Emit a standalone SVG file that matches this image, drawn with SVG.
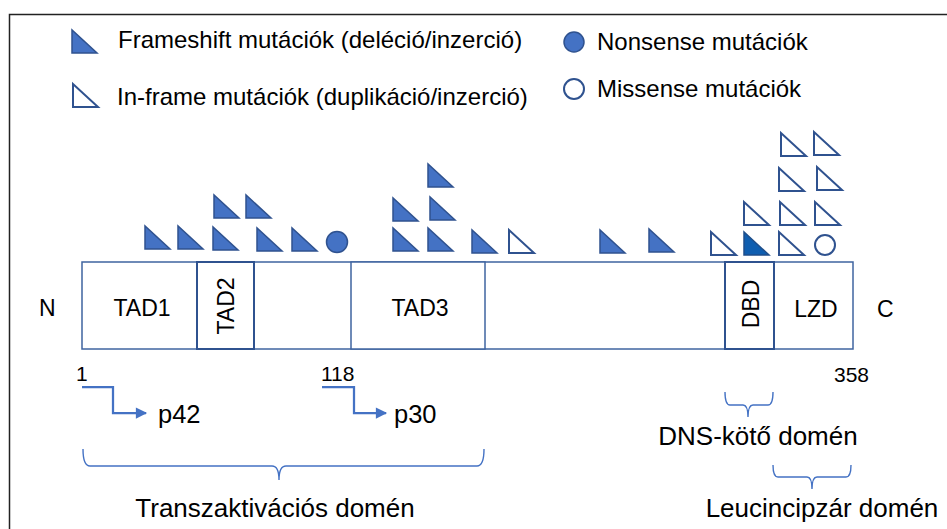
<svg xmlns="http://www.w3.org/2000/svg" xmlns:xlink="http://www.w3.org/1999/xlink" width="947" height="529" viewBox="0 0 947 529">
  <defs>
    <style>
      text { font-family: "Liberation Sans", Arial, sans-serif; fill: #000; }
      .leg { font-size: 24px; }
      .dom { font-size: 23px; }
      .num { font-size: 21px; }
      .iso { font-size: 25.5px; }
      .lab { font-size: 26px; }
      .fs { fill: #4472C4; stroke: #2F528F; stroke-width: 1.5; stroke-linejoin: miter; }
      .inf { fill: #FFFFFF; stroke: #2F528F; stroke-width: 2; stroke-linejoin: miter; }
      .dbdfs { fill: #0F5EB0; stroke: #1F4E8A; stroke-width: 1.5; }
      .bar { fill: #FFFFFF; stroke: #3F64A0; stroke-width: 1.5; }
      .box { fill: #FFFFFF; stroke: #2F528F; stroke-width: 2; }
      .arrow { fill: none; stroke: #4472C4; stroke-width: 2.25; }
      .brace { fill: none; stroke: #4472C4; stroke-width: 1.4; }
    </style>
    <!-- right-angled mutation marker: right angle at bottom-left -->
    <path id="tri" d="M0,0 V23 H25 Z"/>
    <marker id="head" viewBox="0 0 10 10" refX="9" refY="5" markerWidth="5.5" markerHeight="5" orient="auto" markerUnits="strokeWidth">
      <path d="M0,0 L10,5 L0,10 Z" fill="#4472C4"/>
    </marker>
  </defs>

  <!-- frame -->
  <rect x="9.5" y="14.5" width="960" height="540" fill="#FFFFFF" stroke="#222222" stroke-width="1.5"/>

  <!-- legend -->
  <g id="legend-frameshift">
    <use xlink:href="#tri" x="72" y="30" class="fs"/>
    <text class="leg" x="118" y="48">Frameshift mutációk (deléció/inzerció)</text>
  </g>
  <g id="legend-inframe">
    <use xlink:href="#tri" x="73" y="84" class="inf"/>
    <text class="leg" x="117" y="105">In-frame mutációk (duplikáció/inzerció)</text>
  </g>
  <g id="legend-nonsense">
    <circle cx="574" cy="42" r="10" class="fs"/>
    <text class="leg" x="597" y="50">Nonsense mutációk</text>
  </g>
  <g id="legend-missense">
    <circle cx="574" cy="89" r="10" class="inf"/>
    <text class="leg" x="597" y="97">Missense mutációk</text>
  </g>

  <!-- protein bar -->
  <g id="protein">
    <rect x="82" y="262" width="771" height="87" class="bar"/>
  </g>
  <g id="tad2">
    <rect x="197" y="262" width="57" height="87" class="box"/>
    <text class="dom" transform="translate(234,306) rotate(-90)" text-anchor="middle">TAD2</text>
  </g>
  <g id="tad3">
    <rect x="351" y="262" width="134" height="87" class="bar"/>
    <text class="dom" x="420" y="316" text-anchor="middle">TAD3</text>
  </g>
  <g id="dbd">
    <rect x="725" y="262" width="49" height="87" class="box"/>
    <text class="dom" transform="translate(759,304) rotate(-90)" text-anchor="middle">DBD</text>
  </g>
  <g id="tad1">
    <text class="dom" x="142" y="316" text-anchor="middle">TAD1</text>
  </g>
  <g id="lzd">
    <text class="dom" x="816" y="317" text-anchor="middle">LZD</text>
  </g>
  <g id="n-term"><text class="dom" x="39" y="316">N</text></g>
  <g id="c-term"><text class="dom" x="877" y="317">C</text></g>

  <!-- mutations -->
  <g id="frameshift-mutations" class="fs">
    <use xlink:href="#tri" x="145" y="226"/>
    <use xlink:href="#tri" x="178" y="226"/>
    <use xlink:href="#tri" x="213" y="227"/>
    <use xlink:href="#tri" x="257" y="228"/>
    <use xlink:href="#tri" x="292" y="228"/>
    <use xlink:href="#tri" x="214" y="195"/>
    <use xlink:href="#tri" x="246" y="195"/>
    <use xlink:href="#tri" x="393" y="228"/>
    <use xlink:href="#tri" x="428" y="228"/>
    <use xlink:href="#tri" x="472" y="230"/>
    <use xlink:href="#tri" x="393" y="198"/>
    <use xlink:href="#tri" x="430" y="197"/>
    <use xlink:href="#tri" x="428" y="164"/>
    <use xlink:href="#tri" x="600" y="230"/>
    <use xlink:href="#tri" x="649" y="229"/>
  </g>
  <g id="dbd-frameshift">
    <use xlink:href="#tri" x="744" y="232" class="dbdfs"/>
  </g>
  <g id="inframe-mutations" class="inf">
    <use xlink:href="#tri" x="509" y="230"/>
    <use xlink:href="#tri" x="711" y="232"/>
    <use xlink:href="#tri" x="779" y="232"/>
    <use xlink:href="#tri" x="744" y="202"/>
    <use xlink:href="#tri" x="780" y="202"/>
    <use xlink:href="#tri" x="815" y="202"/>
    <use xlink:href="#tri" x="779" y="168"/>
    <use xlink:href="#tri" x="817" y="167"/>
    <use xlink:href="#tri" x="781" y="133"/>
    <use xlink:href="#tri" x="814" y="132"/>
  </g>
  <g id="nonsense-mutation">
    <circle cx="337" cy="242" r="10.5" class="fs"/>
  </g>
  <g id="missense-mutation">
    <circle cx="825" cy="245" r="10" class="inf"/>
  </g>

  <!-- positions and isoforms -->
  <g id="pos-1"><text class="num" x="76" y="381">1</text></g>
  <g id="pos-118"><text class="num" x="321" y="381">118</text></g>
  <g id="pos-358"><text class="num" x="834" y="382">358</text></g>
  <g id="p42"><text class="iso" x="158" y="423">p42</text></g>
  <g id="p30"><text class="iso" x="394" y="423">p30</text></g>

  <!-- domain labels -->
  <g id="transactivation-domain"><text class="lab" x="275" y="517" text-anchor="middle">Transzaktivációs domén</text></g>
  <g id="dna-binding-domain"><text class="lab" x="758" y="445" text-anchor="middle">DNS-kötő domén</text></g>
  <g id="leucine-zipper-domain"><text class="lab" x="822" y="517" text-anchor="middle">Leucincipzár domén</text></g>

  <!-- connectors -->
  <g id="connectors">
    <path class="arrow" d="M82,387 H113 V413 H146" marker-end="url(#head)"/>
    <path class="arrow" d="M322,387 H354 V413 H386" marker-end="url(#head)"/>
    <path class="brace" d="M83,449 Q83,466 90,466 H272 Q279,466 279,480 Q279,466 286,466 H477 Q484,466 484,449"/>
    <path class="brace" d="M725,392 Q725,405 730,405 H743 Q748,405 748,417 Q748,405 753,405 H768 Q773,405 773,392"/>
    <path class="brace" d="M773,465 Q773,477 778,477 H807 Q812,477 812,489 Q812,477 817,477 H846 Q851,477 851,465"/>
  </g>
</svg>
